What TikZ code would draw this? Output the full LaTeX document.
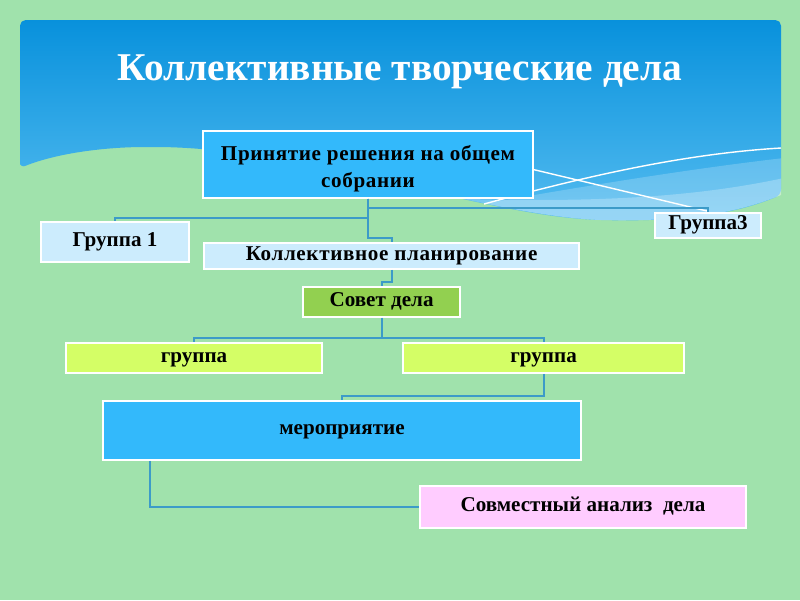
\documentclass[tikz,border=0pt]{standalone}
\usepackage{fontspec}
\setmainfont{Liberation Serif}
\definecolor{meadow}{RGB}{160,226,172}
\definecolor{skytop}{RGB}{8,145,220}
\definecolor{skybot}{RGB}{84,188,240}
\definecolor{boxblue}{RGB}{51,185,251}
\definecolor{paleblue}{RGB}{204,236,253}
\definecolor{leafgreen}{RGB}{146,208,80}
\definecolor{limey}{RGB}{212,254,102}
\definecolor{pinky}{RGB}{255,204,255}
\definecolor{linkblue}{RGB}{60,155,200}
\usetikzlibrary{positioning}
\newcommand{\skyoutline}{(0.5,-4.2) -- (0.5,-0.5) -- (19.525,-0.5) -- (19.525,-4.875)
	.. controls (18.5,-5.3) and (17.25,-5.55) .. (15,-5.5)
	.. controls (12,-5.375) and (7.5,-3.675) .. (3.75,-3.675)
	.. controls (2.75,-3.675) and (1.5,-3.8) .. (0.5,-4.2) -- cycle}

\begin{document}
\begin{tikzpicture}[
	blk/.style={draw=white, line width=1.2pt, font=\bfseries\fontsize{15}{19.5}\selectfont, inner sep=0pt, text height=0.8em, text depth=0.2em},
	link/.style={linkblue, line width=1.4pt},
	wave/.style={white, line width=1pt}]
	\useasboundingbox (0,0) rectangle (20,-15);
	\fill[meadow] (0,0) rectangle (20,-15);
	\path[top color=skytop, bottom color=skybot, rounded corners=4pt] \skyoutline;
	\begin{scope}
		\clip \skyoutline;
		\fill[white, opacity=.2] (19.6,-3.95) .. controls (17,-4.25) and (14,-4.75) .. (10.5,-5.375) -- (10.5,-6) -- (19.6,-6) -- cycle;
		\fill[white, opacity=.25] (19.6,-4.45) .. controls (17.5,-4.9) and (15,-5.1) .. (11,-4.95) -- (11,-6) -- (19.6,-6) -- cycle;
	\end{scope}
	\draw[wave] (11.5,-3.8) -- (17.675,-5.275);
	\draw[wave] (12.1,-5.1) .. controls (14.5,-4.45) and (17,-3.85) .. (19.525,-3.7);
	\node[font=\bfseries\fontsize{28}{30}\selectfont, text=white, anchor=base] (title) at (10,-2.0) {Коллективные творческие дела};
	\node[blk, fill=boxblue, text height=, text depth=, minimum width=8.25cm, minimum height=1.675cm] (dec) at (9.2,-4.11)
		{\raisebox{-3pt}[\height][\depth]{\begin{tabular}{@{}c@{}}\addfontfeature{LetterSpace=3}Принятие решения на общем\\\addfontfeature{LetterSpace=3}собрании\end{tabular}}};
	\node[blk, fill=paleblue, minimum width=3.7cm, minimum height=1cm] (grp1) at (2.875,-6.05) {Группа 1};
	\node[blk, fill=paleblue, minimum width=9.375cm, minimum height=0.65cm] (plan) at (9.79,-6.4) {\addfontfeature{LetterSpace=3}Коллективное планирование};
	\node[blk, fill=paleblue, minimum width=2.65cm, minimum height=0.625cm] (grp3) at (17.7,-5.64) {Группа3};
	\node[blk, fill=leafgreen, minimum width=3.925cm, minimum height=0.75cm] (sovet) at (9.54,-7.55) {Совет дела};
	\node[blk, fill=limey, minimum width=6.4cm, minimum height=0.75cm] (gl) at (4.85,-8.95) {группа};
	\node[blk, fill=limey, minimum width=7.025cm, minimum height=0.75cm] (gr) at (13.59,-8.95) {группа};
	\node[blk, fill=boxblue, minimum width=11.95cm, minimum height=1.475cm] (event) at (8.55,-10.76) {мероприятие};
	\node[blk, fill=pinky, minimum width=8.15cm, minimum height=1.05cm] (anal) at (14.575,-12.675) {Совместный анализ~ дела};
	\draw[link] (dec.south) -- ++(0,-0.225) -| (grp3.north);
	\draw[link] (dec.south) -- ++(0,-0.475) -| (grp1.north);
	\draw[link] (dec.south) -- ++(0,-0.975) -| (plan.north);
	\draw[link] (plan.south) -- ++(0,-0.3) -| (sovet.north);
	\draw[link] (sovet.south) -- ++(0,-0.5) -| (gl.north);
	\draw[link] (sovet.south) -- ++(0,-0.5) -| (gr.north);
	\draw[link] (gr.south) -- ++(0,-0.55) -| (event.north);
	\draw[link] ([xshift=1.2cm]event.south west) |- (anal.west);
\end{tikzpicture}
\end{document}
